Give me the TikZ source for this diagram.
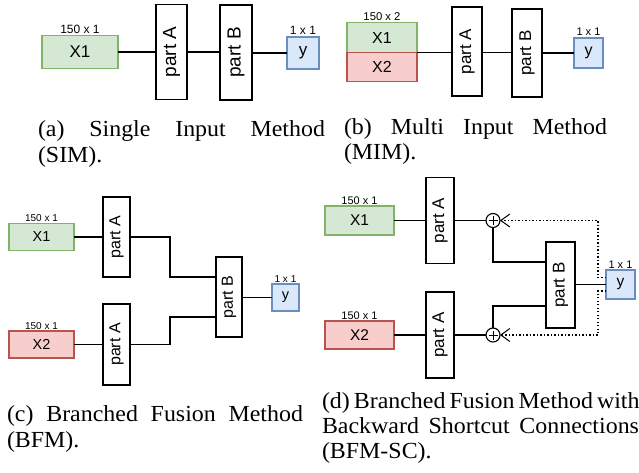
\documentclass[tikz,border=0pt]{standalone}
\usepackage{fontspec}
\setmainfont{Liberation Serif}
\setsansfont{Liberation Sans}
\usepackage{graphicx}
\usetikzlibrary{arrows.meta}
\definecolor{gfill}{HTML}{D5E8D4}
\definecolor{gdraw}{HTML}{82B366}
\definecolor{rfill}{HTML}{F8CECC}
\definecolor{rdraw}{HTML}{B85450}
\definecolor{bfill}{HTML}{DAE8FC}
\definecolor{bdraw}{HTML}{6C8EBF}
\newcommand{\fsz}[1]{\fontsize{#1}{#1}\selectfont}
\newcommand{\capline}[2]{\scalebox{1.04}[1]{\hbox to \dimexpr #1pt*25/26\relax{#2}}}
\newcommand{\capword}[1]{\scalebox{1.04}[1]{#1}}
\begin{document}
\begin{tikzpicture}[x=1pt,y=-1pt,
  every node/.style={inner sep=0pt, outer sep=0pt},
  blk/.style={draw, line width=1.1pt, rectangle, font=\sffamily},
  xg/.style={blk, fill=gfill, draw=gdraw},
  xr/.style={blk, fill=rfill, draw=rdraw},
  yb/.style={blk, fill=bfill, draw=bdraw},
  part/.style={blk, draw=black, fill=white},
  lbl/.style={anchor=base, yshift=2pt, font=\sffamily},
  wire/.style={line width=1.1pt},
  dotw/.style={line width=1.1pt, dash pattern=on 1.1pt off 2.4pt, -{Straight Barb[length=9pt,width=13pt,line width=1pt]}},
  sumc/.style={circle, draw, line width=1.1pt, fill=white, minimum size=14pt,
    path picture={\draw[line width=1pt] ([xshift=-4.5pt]path picture bounding box.center) -- ([xshift=4.5pt]path picture bounding box.center)
      ([yshift=-4.5pt]path picture bounding box.center) -- ([yshift=4.5pt]path picture bounding box.center);}},
  captxt/.style={anchor=base west, font=\fontsize{23}{25}\selectfont}
]
\useasboundingbox (0,0) rectangle (639,473);
\fill[white] (0,0) rectangle (639,473);

% ---------------- (a) ----------------
\node[xg, minimum width=76pt, minimum height=33pt, font=\sffamily\fsz{17}] (ax1) at (80,52) {X1};
\node[part, minimum width=31pt, minimum height=95pt, font=\sffamily\fsz{19}] (apa) at (171.5,52) {\rotatebox{90}{part A}};
\node[part, minimum width=32pt, minimum height=95pt, font=\sffamily\fsz{19}] (apb) at (236,52.5) {\rotatebox{90}{part B}};
\node[yb, minimum width=32pt, minimum height=32pt, font=\sffamily\fsz{17}] (ay) at (303,53) {y};
\node[lbl, font=\sffamily\fsz{12}] (ax1l) at (ax1.north) {150 x 1};
\node[lbl, font=\sffamily\fsz{12}] (ayl) at (ay.north) {1 x 1};
\draw[wire] (ax1.east) -- (ax1.east -| apa.west);
\draw[wire] (apa.east |- ax1.east) -- (apb.west |- ax1.east);
\draw[wire] (apb.east |- ay.west) -- (ay.west);
\node[captxt] (capa1) at (38,137) {\capline{287}{(a)\hfill Single\hfill Input\hfill Method}};
\node[captxt] (capa2) at (38,163) {\capword{(SIM).}};

% ---------------- (b) ----------------
\node[xg, minimum width=70pt, minimum height=30pt, font=\sffamily\fsz{16}] (bx1) at (382,37.5) {X1};
\node[xr, minimum width=70pt, minimum height=29pt, font=\sffamily\fsz{16}] (bx2) at (382,67) {X2};
\node[part, minimum width=30pt, minimum height=89pt, font=\sffamily\fsz{17}] (bpa) at (467,51.5) {\rotatebox{90}{part A}};
\node[part, minimum width=30pt, minimum height=88pt, font=\sffamily\fsz{17}] (bpb) at (527,53) {\rotatebox{90}{part B}};
\node[yb, minimum width=29pt, minimum height=30pt, font=\sffamily\fsz{16}] (by) at (588.5,53) {y};
\node[lbl, font=\sffamily\fsz{11.3}] (bx1l) at (bx1.north) {150 x 2};
\node[lbl, font=\sffamily\fsz{11}] (byl) at (by.north) {1 x 1};
\draw[wire] (bx1.south east) -- (bx1.south east -| bpa.west);
\draw[wire] (bpa.east |- bx1.south east) -- (bpb.west |- bx1.south east);
\draw[wire] (bpb.east |- by.west) -- (by.west);
\node[captxt] (capb1) at (344,135) {\capline{263}{(b)\hfill Multi\hfill Input\hfill Method}};
\node[captxt] (capb2) at (344,160) {\capword{(MIM).}};

% ---------------- (c) ----------------
\node[xg, minimum width=65pt, minimum height=27pt, font=\sffamily\fsz{14.5}] (cx1) at (41.5,237) {X1};
\node[xr, minimum width=65pt, minimum height=27pt, font=\sffamily\fsz{14.5}] (cx2) at (41.5,344.5) {X2};
\node[part, minimum width=27pt, minimum height=80pt, font=\sffamily\fsz{16}] (cpa1) at (116.5,237) {\rotatebox{90}{part A}};
\node[part, minimum width=27pt, minimum height=81pt, font=\sffamily\fsz{16}] (cpa2) at (116.5,344.5) {\rotatebox{90}{part A}};
\node[part, minimum width=26pt, minimum height=80pt, font=\sffamily\fsz{16}] (cpb) at (229,297) {\rotatebox{90}{part B}};
\node[yb, minimum width=27pt, minimum height=27pt, font=\sffamily\fsz{14.5}] (cy) at (285.5,297.5) {y};
\node[lbl, font=\sffamily\fsz{10}] (cx1l) at (cx1.north) {150 x 1};
\node[lbl, font=\sffamily\fsz{10}] (cx2l) at (cx2.north) {150 x 1};
\node[lbl, font=\sffamily\fsz{10}] (cyl) at (cy.north) {1 x 1};
\draw[wire] (cx1) -- (cpa1);
\draw[wire] (cx2) -- (cpa2);
\draw[wire] (cpa1.east) -- ++(40,0) |- ([yshift=20pt]cpb.west);
\draw[wire] (cpa2.east) -- ++(40,0) |- ([yshift=-20pt]cpb.west);
\draw[wire] (cpb.east |- cy.west) -- (cy.west);
\node[captxt] (capc1) at (7,421) {\capline{296}{(c)\hfill Branched\hfill Fusion\hfill Method}};
\node[captxt] (capc2) at (7,447) {\capword{(BFM).}};

% ---------------- (d) ----------------
\node[xg, minimum width=69pt, minimum height=29pt, font=\sffamily\fsz{15.5}] (dx1) at (359.5,220.5) {X1};
\node[xr, minimum width=69pt, minimum height=28pt, font=\sffamily\fsz{15.5}] (dx2) at (359.5,335) {X2};
\node[part, minimum width=28pt, minimum height=86pt, font=\sffamily\fsz{17}] (dpa1) at (440,220.5) {\rotatebox{90}{part A}};
\node[part, minimum width=28pt, minimum height=86pt, font=\sffamily\fsz{17}] (dpa2) at (440,335) {\rotatebox{90}{part A}};
\node[sumc] (dc1) at (493,220.5) {};
\node[sumc] (dc2) at (493,335) {};
\node[part, minimum width=29pt, minimum height=86pt, font=\sffamily\fsz{17}] (dpb) at (560.5,285) {\rotatebox{90}{part B}};
\node[yb, minimum width=29pt, minimum height=29pt, font=\sffamily\fsz{15.5}] (dy) at (620.5,284.5) {y};
\node[lbl, font=\sffamily\fsz{11}] (dx1l) at (dx1.north) {150 x 1};
\node[lbl, font=\sffamily\fsz{11}] (dx2l) at (dx2.north) {150 x 1};
\node[lbl, font=\sffamily\fsz{11}] (dyl) at (dy.north) {1 x 1};
\draw[wire] (dx1) -- (dpa1);
\draw[wire] (dx2) -- (dpa2);
\draw[wire] (dpa1.east) -- (dc1.west);
\draw[wire] (dpa2.east) -- (dc2.west);
\draw[wire] (dc1.south) |- ([yshift=23pt]dpb.west);
\draw[wire] (dc2.north) |- ([yshift=-21pt]dpb.west);
\draw[wire] (dpb.east |- dy.west) -- (dy.west);
\draw[dotw] ([yshift=7pt]dy.west) -- ++(-8,0) |- (dc1.east);
\draw[dotw] ([yshift=-6.5pt]dy.west) -- ++(-8,0) |- (dc2.east);
\node[captxt] (capd1) at (322,408) {\capline{317}{(d) Branched Fusion Method with}};
\node[captxt] (capd2) at (322,433) {\capline{317}{Backward Shortcut Connections}};
\node[captxt] (capd3) at (322,458) {\capword{(BFM-SC).}};
\end{tikzpicture}
\end{document}
